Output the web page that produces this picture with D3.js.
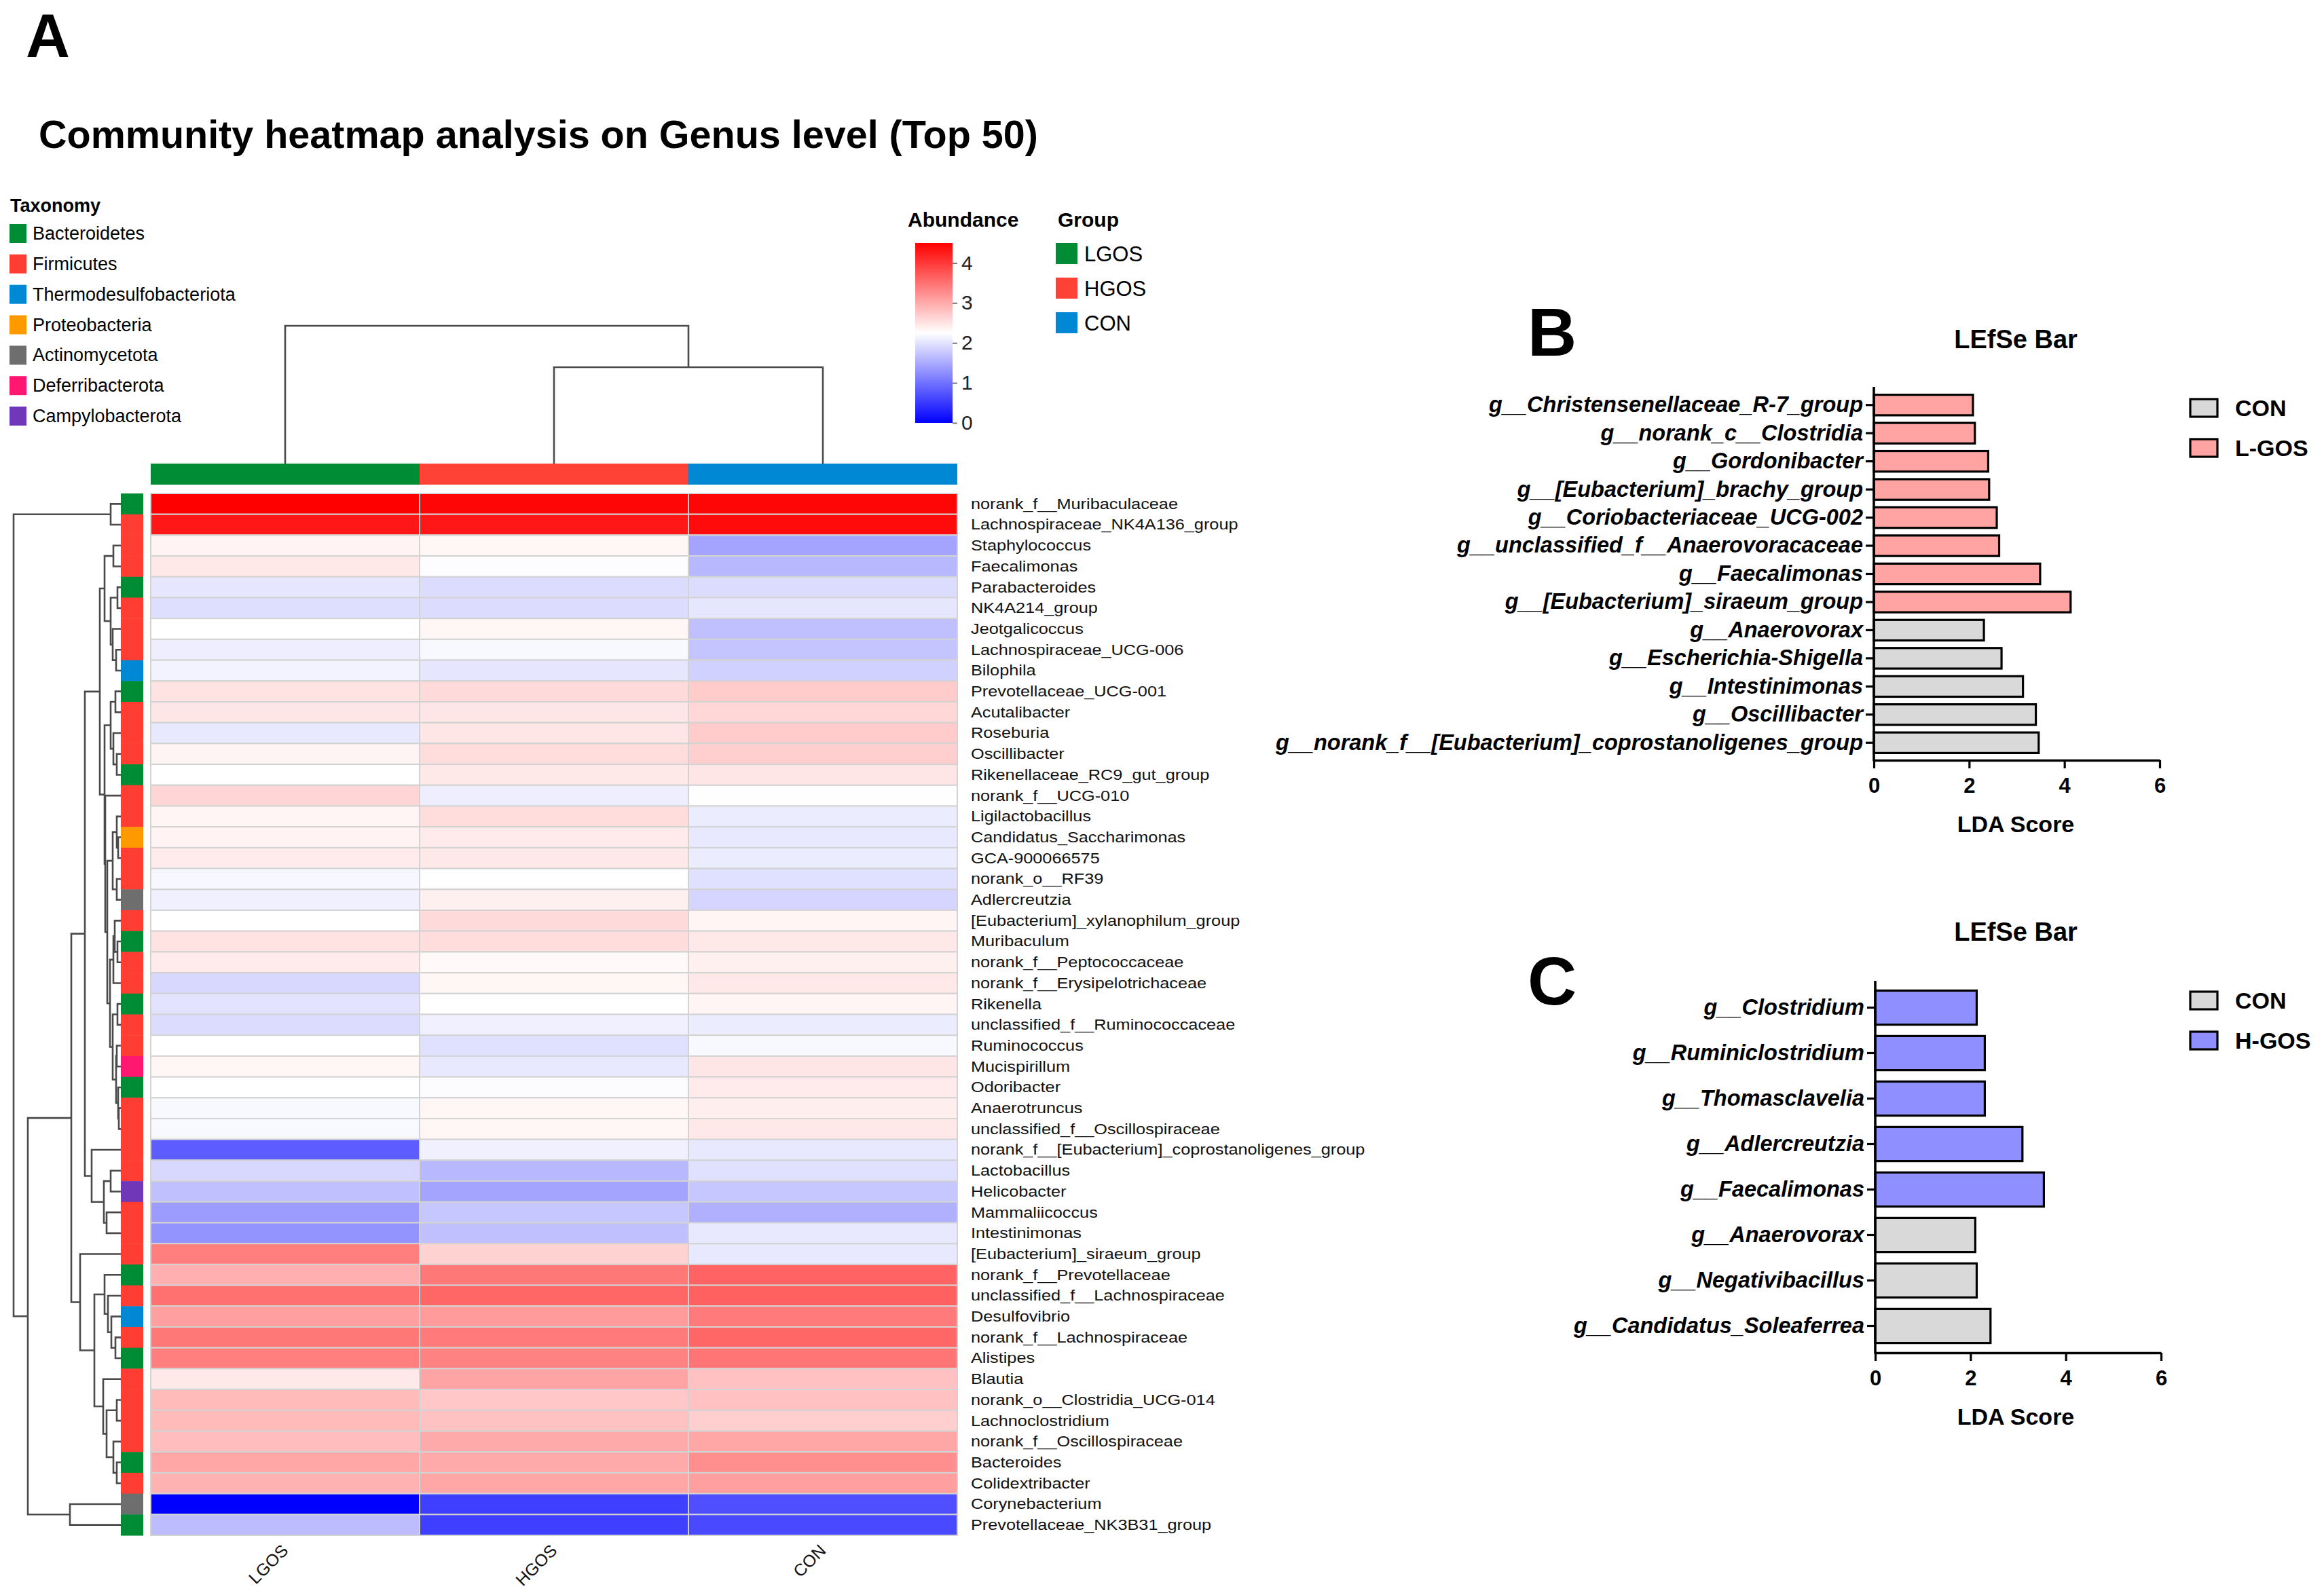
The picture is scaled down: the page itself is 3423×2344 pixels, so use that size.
<!DOCTYPE html>
<html>
<head>
<meta charset="utf-8">
<script src="https://cdn.jsdelivr.net/npm/d3@7"></script>
<style>
  html, body { margin: 0; padding: 0; background: #ffffff; }
  svg text { font-family: "Liberation Sans", Arial, sans-serif; }
</style>
</head>
<body>
<script>
// ---------------- DATA ----------------
const groups = ["LGOS", "HGOS", "CON"];
const genera = [
  "norank_f__Muribaculaceae", "Lachnospiraceae_NK4A136_group", "Staphylococcus", "Faecalimonas",
  "Parabacteroides", "NK4A214_group", "Jeotgalicoccus", "Lachnospiraceae_UCG-006", "Bilophila",
  "Prevotellaceae_UCG-001", "Acutalibacter", "Roseburia", "Oscillibacter", "Rikenellaceae_RC9_gut_group",
  "norank_f__UCG-010", "Ligilactobacillus", "Candidatus_Saccharimonas", "GCA-900066575", "norank_o__RF39",
  "Adlercreutzia", "[Eubacterium]_xylanophilum_group", "Muribaculum", "norank_f__Peptococcaceae",
  "norank_f__Erysipelotrichaceae", "Rikenella", "unclassified_f__Ruminococcaceae", "Ruminococcus",
  "Mucispirillum", "Odoribacter", "Anaerotruncus", "unclassified_f__Oscillospiraceae",
  "norank_f__[Eubacterium]_coprostanoligenes_group", "Lactobacillus", "Helicobacter", "Mammaliicoccus",
  "Intestinimonas", "[Eubacterium]_siraeum_group", "norank_f__Prevotellaceae", "unclassified_f__Lachnospiraceae",
  "Desulfovibrio", "norank_f__Lachnospiraceae", "Alistipes", "Blautia", "norank_o__Clostridia_UCG-014",
  "Lachnoclostridium", "norank_f__Oscillospiraceae", "Bacteroides", "Colidextribacter", "Corynebacterium",
  "Prevotellaceae_NK3B31_group"
];
const phylumOf = [
  "Bacteroidetes","Firmicutes","Firmicutes","Firmicutes","Bacteroidetes","Firmicutes","Firmicutes","Firmicutes",
  "Thermodesulfobacteriota","Bacteroidetes","Firmicutes","Firmicutes","Firmicutes","Bacteroidetes","Firmicutes",
  "Firmicutes","Proteobacteria","Firmicutes","Firmicutes","Actinomycetota","Firmicutes","Bacteroidetes","Firmicutes",
  "Firmicutes","Bacteroidetes","Firmicutes","Firmicutes","Deferribacterota","Bacteroidetes","Firmicutes","Firmicutes",
  "Firmicutes","Firmicutes","Campylobacterota","Firmicutes","Firmicutes","Firmicutes","Bacteroidetes","Firmicutes",
  "Thermodesulfobacteriota","Firmicutes","Bacteroidetes","Firmicutes","Firmicutes","Firmicutes","Firmicutes",
  "Bacteroidetes","Firmicutes","Actinomycetota","Bacteroidetes"
];
const valLGOS = [4.5,4.3,2.36,2.45,2.03,1.96,2.25,2.1,2.14,2.51,2.47,2.05,2.35,2.25,2.62,2.34,2.36,2.43,2.18,2.12,
  2.25,2.51,2.43,1.91,2.0,1.94,2.25,2.33,2.25,2.19,2.19,0.81,1.91,1.69,1.38,1.31,3.38,2.96,3.5,3.1,3.44,3.38,2.45,
  2.86,2.86,2.83,3.03,2.93,0.0,1.66];
const valHGOS = [4.45,4.3,2.33,2.23,1.94,1.94,2.33,2.19,2.03,2.58,2.47,2.47,2.55,2.45,2.1,2.55,2.43,2.45,2.25,2.38,
  2.58,2.55,2.3,2.33,2.25,2.12,1.98,2.05,2.22,2.33,2.33,2.12,1.62,1.45,1.76,1.69,2.65,3.44,3.6,3.13,3.42,3.35,3.05,
  2.74,2.79,3.0,3.0,3.03,0.56,0.56];
const valCON = [4.45,4.4,1.45,1.62,1.94,2.03,1.69,1.73,1.84,2.71,2.6,2.71,2.67,2.47,2.24,2.08,2.05,2.08,1.98,1.88,
  2.34,2.45,2.38,2.45,2.34,2.08,2.19,2.47,2.43,2.4,2.45,2.05,1.98,1.76,1.55,2.05,2.05,3.63,3.64,3.42,3.6,3.47,2.8,
  2.8,2.67,3.03,3.24,3.1,0.7,0.64];
const phyla = ["Bacteroidetes","Firmicutes","Thermodesulfobacteriota","Proteobacteria","Actinomycetota","Deferribacterota","Campylobacterota"];
const phylaColors = ["#008c35","#ff3d33","#0088d4","#ff9900","#6e6e6e","#ff1770","#7038b8"];
const groupColors = ["#008c35","#ff4136","#0088d4"];
const abundanceTicks = [0,1,2,3,4];

// Row dendrogram: [height, left, right]; numbers are 1-based row indices
const rowTree = [158, [15, 1, 2],
  [137,
    [73,
      [53,
        [31,
          [24, [11, 3, 4], [15, [5, 5, 6], [12, 7, [7, 8, 9]]]],
          [24,
            [15, [8, 10, 11], [11, 12, [6, 13, 14]]],
            [23, 15,
              [20,
                [12, [6, 16, [4, 17, 18]], [6, 19, 20]],
                [16, [11, [9, 21, [5, 22, 23]], 24], [12, [5, 25, 26], [7, [6, 27, 28], [4, 29, [3, 30, 31]]]]]
              ]
            ]
          ]
        ],
        [43, 32, [25, [15, 33, 34], [21, 35, 36]]]
      ],
      [60, 37,
        [39,
          [24, 38, [19, 39, [14, 40, [8, 41, 42]]]],
          [26, 43, [21, [6, 44, 45], [11, 46, [6, 47, 48]]]]
        ]
      ]
    ],
    [75, 49, 50]
  ]
];
// Column dendrogram
const colTree = [203, "LGOS", [142, "HGOS", "CON"]];

// LEfSe B
const bNames = ["g__Christensenellaceae_R-7_group","g__norank_c__Clostridia","g__Gordonibacter","g__[Eubacterium]_brachy_group",
  "g__Coriobacteriaceae_UCG-002","g__unclassified_f__Anaerovoracaceae","g__Faecalimonas","g__[Eubacterium]_siraeum_group",
  "g__Anaerovorax","g__Escherichia-Shigella","g__Intestinimonas","g__Oscillibacter","g__norank_f__[Eubacterium]_coprostanoligenes_group"];
const bValues = [2.08,2.12,2.40,2.42,2.58,2.63,3.49,4.13,2.31,2.68,3.13,3.40,3.46];
const bGroup = ["L-GOS","L-GOS","L-GOS","L-GOS","L-GOS","L-GOS","L-GOS","L-GOS","CON","CON","CON","CON","CON"];
// LEfSe C
const cNames = ["g__Clostridium","g__Ruminiclostridium","g__Thomasclavelia","g__Adlercreutzia","g__Faecalimonas",
  "g__Anaerovorax","g__Negativibacillus","g__Candidatus_Soleaferrea"];
const cValues = [2.13,2.30,2.30,3.09,3.54,2.10,2.13,2.42];
const cGroup = ["H-GOS","H-GOS","H-GOS","H-GOS","H-GOS","CON","CON","CON"];
const ldaTicks = [0,2,4,6];
const lefseColors = {"CON":"#d9d9d9","L-GOS":"#ffa3a3","H-GOS":"#8f8fff"};

// ---------------- DRAW ----------------
const W = 3423, H = 2344;
const FONT = '"Liberation Sans", Arial, sans-serif';
const svg = d3.select("body").append("svg").attr("width", W).attr("height", H)
  .style("display","block").style("background","#fff");

// Panel A label & title
svg.append("text").attr("x", 38).attr("y", 84).attr("font-size", 90).attr("font-weight", "bold").text("A");
svg.append("text").attr("x", 57).attr("y", 218).attr("font-size", 57.5).attr("font-weight", "bold")
  .text("Community heatmap analysis on Genus level (Top 50)");

// Taxonomy legend
svg.append("text").attr("x", 15).attr("y", 303).attr("dominant-baseline","central")
  .attr("font-size", 27).attr("font-weight","bold").text("Taxonomy");
const taxLeg = svg.append("g");
const taxY = d3.scalePoint().domain(phyla).range([344, 613]);
phyla.forEach((p, i) => {
  taxLeg.append("rect").attr("x", 14).attr("y", taxY(p) - 14).attr("width", 25).attr("height", 28).attr("fill", phylaColors[i]);
  taxLeg.append("text").attr("x", 48).attr("y", taxY(p)).attr("dominant-baseline","central")
    .attr("font-size", 27).text(p);
});

// Heatmap scales
const xH = d3.scaleBand().domain(groups).range([222, 1410]);
const yH = d3.scaleBand().domain(d3.range(50)).range([727, 2262]);
const color = d3.scaleLinear().domain([0, 2.25, 4.5]).range(["#0000ff", "#ffffff", "#ff0000"]);
const phylumColor = d3.scaleOrdinal().domain(phyla).range(phylaColors);
const groupColor = d3.scaleOrdinal().domain(groups).range(groupColors);
const valuesBy = {LGOS: valLGOS, HGOS: valHGOS, CON: valCON};

// group bar
svg.append("g").selectAll("rect").data(groups).join("rect")
  .attr("x", d => xH(d)).attr("y", 683).attr("width", xH.bandwidth()).attr("height", 31)
  .attr("fill", d => groupColor(d));

// cells
const cells = [];
genera.forEach((g, i) => groups.forEach(gr => cells.push({i, gr, v: valuesBy[gr][i]})));
svg.append("g").selectAll("rect").data(cells).join("rect")
  .attr("x", d => xH(d.gr)).attr("y", d => yH(d.i)).attr("width", xH.bandwidth()).attr("height", yH.bandwidth())
  .attr("fill", d => color(d.v)).attr("stroke", "#d3d3d3").attr("stroke-width", 2);

// taxonomy column
svg.append("g").selectAll("rect").data(phylumOf).join("rect")
  .attr("x", 178).attr("y", (d, i) => yH(i)).attr("width", 33).attr("height", yH.bandwidth() + 0.5)
  .attr("fill", d => phylumColor(d));

// row labels
const rl = svg.append("g").attr("transform", "translate(1430,0) scale(1.15,1)");
rl.selectAll("text").data(genera).join("text")
  .attr("x", 0).attr("y", (d, i) => yH(i) + yH.bandwidth() / 2).attr("dominant-baseline", "central")
  .attr("font-size", 22).attr("fill", "#111").text(d => d);

// column labels
svg.append("g").selectAll("text").data(groups).join("text")
  .attr("transform", d => `translate(${xH(d) + xH.bandwidth() / 2 + 6},${2286}) rotate(-45)`)
  .attr("text-anchor", "end").attr("font-size", 25).attr("fill", "#111").text(d => d);

// row dendrogram
const rowH = d3.scaleLinear().domain([0, 158]).range([178, 20]);
const dendG = svg.append("g").attr("fill", "none").attr("stroke", "#4a4a4a").attr("stroke-width", 2.6);
function drawRowTree(node) {
  if (typeof node === "number") return {pos: yH(node - 1) + yH.bandwidth() / 2, h: 0};
  const a = drawRowTree(node[1]), b = drawRowTree(node[2]);
  const x = rowH(node[0]);
  dendG.append("path").attr("d", `M${rowH(a.h)},${a.pos}H${x}V${b.pos}H${rowH(b.h)}`);
  return {pos: (a.pos + b.pos) / 2, h: node[0]};
}
drawRowTree(rowTree);

// column dendrogram
const colV = d3.scaleLinear().domain([0, 203]).range([683, 480]);
function drawColTree(node) {
  if (typeof node === "string") return {pos: xH(node) + xH.bandwidth() / 2, h: 0};
  const a = drawColTree(node[1]), b = drawColTree(node[2]);
  const y = colV(node[0]);
  dendG.append("path").attr("d", `M${a.pos},${colV(a.h)}V${y}H${b.pos}V${colV(b.h)}`);
  return {pos: (a.pos + b.pos) / 2, h: node[0]};
}
drawColTree(colTree);

// Abundance legend
svg.append("text").attr("x", 1337).attr("y", 323).attr("dominant-baseline","central")
  .attr("font-size", 30).attr("font-weight","bold").text("Abundance");
const defs = svg.append("defs");
const grad = defs.append("linearGradient").attr("id", "abund").attr("x1", 0).attr("x2", 0).attr("y1", 1).attr("y2", 0);
[0, 0.25, 0.5, 0.75, 1].forEach(t => grad.append("stop").attr("offset", t).attr("stop-color", color(t * 4.5)));
const abY = d3.scaleLinear().domain([0, 4.5]).range([623, 358]);
svg.append("rect").attr("x", 1348).attr("y", abY(4.5)).attr("width", 55).attr("height", abY(0) - abY(4.5))
  .attr("fill", "url(#abund)");
const abAxis = svg.append("g").attr("transform", "translate(1403,0)")
  .call(d3.axisRight(abY).tickValues(abundanceTicks).tickFormat(d3.format("d")).tickSize(7).tickPadding(6));
abAxis.select(".domain").remove();
abAxis.selectAll("line").attr("stroke", "#777").attr("stroke-width", 2);
abAxis.selectAll("text").attr("font-size", 30).attr("font-family", FONT).attr("fill", "#222");

// Group legend
svg.append("text").attr("x", 1558).attr("y", 323).attr("dominant-baseline","central")
  .attr("font-size", 30).attr("font-weight","bold").text("Group");
const gLegY = d3.scalePoint().domain(groups).range([374, 476]);
groups.forEach(g => {
  svg.append("rect").attr("x", 1555).attr("y", gLegY(g) - 16).attr("width", 32).attr("height", 31).attr("fill", groupColor(g));
  svg.append("text").attr("x", 1597).attr("y", gLegY(g)).attr("dominant-baseline","central")
    .attr("font-size", 31).text(g);
});

// LEfSe panels
function lefse(opt) {
  const g = svg.append("g");
  g.append("text").attr("x", opt.letterX).attr("y", opt.letterY).attr("font-size", 100).attr("font-weight","bold").text(opt.letter);
  g.append("text").attr("x", 2969).attr("y", opt.titleY).attr("text-anchor","middle").attr("dominant-baseline","central")
    .attr("font-size", 38).attr("font-weight","bold").text("LEfSe Bar");
  const x = d3.scaleLinear().domain([0, 6]).range([opt.x0, opt.x0 + 421]);
  const y = d3.scaleBand().domain(opt.names).range(opt.bandRange).paddingInner(opt.pad).paddingOuter(opt.pad / 2);
  g.selectAll("rect.bar").data(opt.names).join("rect").attr("class","bar")
    .attr("x", x(0)).attr("y", d => y(d)).attr("width", (d, i) => x(opt.values[i]) - x(0)).attr("height", y.bandwidth())
    .attr("fill", (d, i) => lefseColors[opt.groupsOf[i]]).attr("stroke", "#000").attr("stroke-width", 3.2);
  const ya = g.append("g").attr("transform", `translate(${x(0)},0)`)
    .call(d3.axisLeft(y).tickSize(12).tickPadding(4));
  ya.select(".domain").remove();
  ya.selectAll("line").attr("stroke", "#000").attr("stroke-width", 3.2);
  ya.selectAll("text").attr("font-size", 32.5).attr("font-weight","bold").attr("font-style","italic")
    .attr("font-family", FONT).attr("fill","#000");
  g.append("line").attr("x1", x(0)).attr("x2", x(0)).attr("y1", opt.axisTop).attr("y2", opt.axisY + 1.6)
    .attr("stroke","#000").attr("stroke-width", 3.6);
  const xa = g.append("g").attr("transform", `translate(0,${opt.axisY})`)
    .call(d3.axisBottom(x).tickValues(ldaTicks).tickFormat(d3.format("d")).tickSize(12).tickSizeOuter(0).tickPadding(14));
  xa.select(".domain").attr("stroke","#000").attr("stroke-width", 3.6);
  xa.selectAll("line").attr("stroke","#000").attr("stroke-width", 3.2);
  xa.selectAll("text").attr("font-size", 31).attr("font-weight","bold").attr("font-family", FONT).attr("fill","#000");
  g.append("text").attr("x", 2969).attr("y", opt.axisY + 94).attr("text-anchor","middle").attr("dominant-baseline","central")
    .attr("font-size", 34).attr("font-weight","bold").text("LDA Score");
  opt.legend.forEach((k, i) => {
    const cy = opt.legY[i];
    g.append("rect").attr("x", 3226).attr("y", cy - 13).attr("width", 40).attr("height", 26)
      .attr("fill", lefseColors[k]).attr("stroke","#000").attr("stroke-width", 3.2);
    g.append("text").attr("x", 3292).attr("y", cy).attr("dominant-baseline","central")
      .attr("font-size", 34).attr("font-weight","bold").text(k);
  });
}
lefse({letter:"B", letterX:2250, letterY:524, titleY:500, names:bNames, values:bValues, groupsOf:bGroup,
  x0:2760, bandRange:[576, 1115], pad:0.27, axisTop:570, axisY:1120, legend:["CON","L-GOS"], legY:[601, 660]});
lefse({letter:"C", letterX:2250, letterY:1480, titleY:1373, names:cNames, values:cValues, groupsOf:cGroup,
  x0:2762, bandRange:[1451, 1987], pad:0.25, axisTop:1445, axisY:1993, legend:["CON","H-GOS"], legY:[1474, 1533]});
</script>
</body>
</html>
